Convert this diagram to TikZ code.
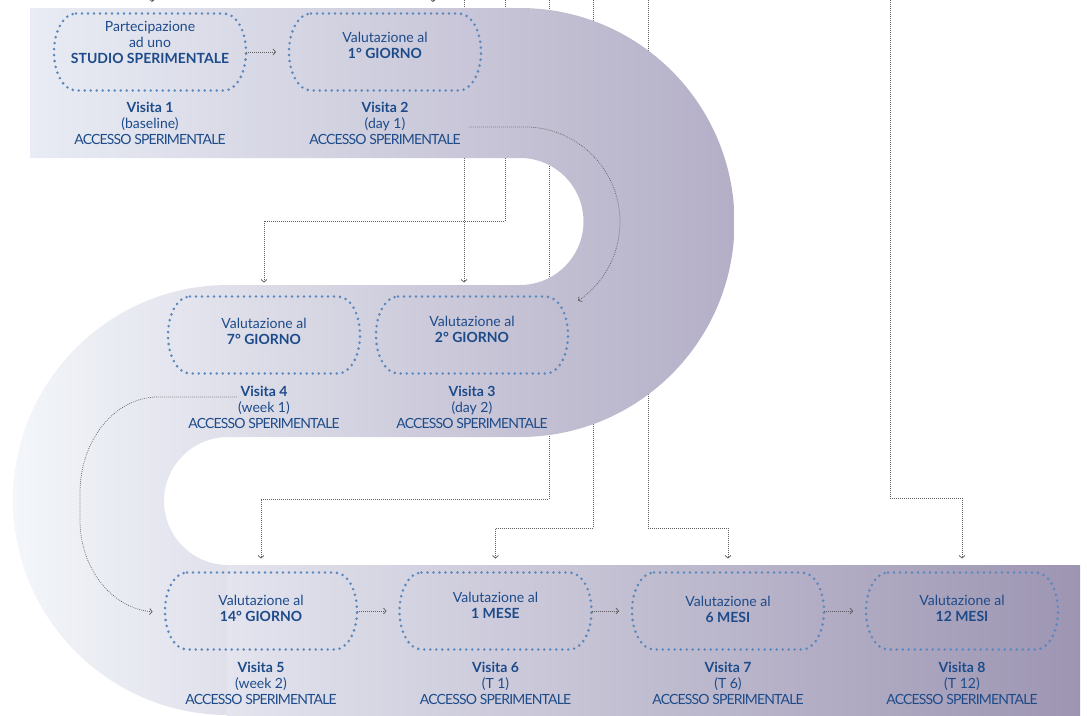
\documentclass[tikz,border=0pt]{standalone}
\usepackage{fontspec}
\setmainfont{Lato}
\newfontfamily\accfont[LetterSpace=-6]{Lato}
\usetikzlibrary{arrows.meta,calc}
\definecolor{txtblue}{HTML}{1D4B8A}
\definecolor{dotblue}{HTML}{5A88BC}
\definecolor{conncol}{HTML}{5E5E5E}
\newcommand\drawstadium[1]{%
  \draw[dotb] ([xshift=22pt]#1.north west) -- ([xshift=-22pt]#1.north east)
    arc[start angle=-90,end angle=90,x radius=22,y radius=38.5]
    -- ([xshift=22pt]#1.south west)
    arc[start angle=90,end angle=270,x radius=22,y radius=38.5] -- cycle;}
\newcommand\acc{{\accfont ACCESSO SPERIMENTALE}}
\begin{document}
\begin{tikzpicture}[x=1pt,y=-1pt,
  box/.style={minimum width=192pt,minimum height=77pt,inner sep=0pt,outer sep=0pt},
  boxtext/.style={text=txtblue,align=center,font=\fontsize{14}{16}\selectfont,inner sep=0pt},
  lab/.style={text=txtblue,align=center,font=\fontsize{14}{16}\selectfont,inner sep=0pt,anchor=north},
  dotb/.style={draw=dotblue,line width=2.9pt,line cap=round,dash pattern=on 0pt off 6pt},
  conn/.style={draw=conncol,line width=0.75pt,dash pattern=on 0.75pt off 1.25pt},
  tip/.style={-{Straight Barb[length=2.5pt,width=6pt,line width=0.75pt]}},
]
\useasboundingbox (0,0) rectangle (1087,715);

% invisible box nodes
\node[box] (N1) at (150,52) {};
\node[box] (N2) at (385,52) {};
\node[box] (N4) at (264,335) {};
\node[box] (N3) at (472,335) {};
\node[box] (N5) at (261,611) {};
\node[box] (N6) at (495.5,611) {};
\node[box] (N7) at (728,611) {};
\node[box] (N8) at (962,611) {};

% connectors coming from above (behind the ribbon)
\coordinate (a1) at (152,-8); \coordinate (a1e) at (152,2);
\coordinate (a2) at (433,-8); \coordinate (a2e) at (433,2);
\draw[conn,tip] (a1) -- (a1e);
\draw[conn,tip] (a2) -- (a2e);
\coordinate (s464) at (464,-2);
\coordinate (s505) at (505,-2);
\coordinate (s549) at (549,-2);
\coordinate (s593) at (593,-2);
\coordinate (s648) at (648,-2);
\coordinate (s890) at (890,-2);
\coordinate (k505) at (505,221);
\coordinate (k549) at (549,499);
\coordinate (k593) at (593,528);
\coordinate (k648) at (648,528);
\coordinate (k890) at (890,498);
\draw[conn,tip,shorten >=14pt] (s464) -- (s464 |- N3.north);
\draw[conn,tip,shorten >=14pt] (s505) -- (k505) -| (N4.north);
\draw[conn,tip,shorten >=14pt] (s549) -- (k549) -| (N5.north);
\draw[conn,tip,shorten >=14pt] (s593) -- (k593) -| (N6.north);
\draw[conn,tip,shorten >=14pt] (s648) -- (k648) -| (N7.north);
\draw[conn,tip,shorten >=14pt] (s890) -- (k890) -| (N8.north);

% ribbon
\shade[left color={rgb,255:red,233;green,236;blue,244},right color={rgb,255:red,180;green,175;blue,199}]
  (30,8) -- (520,8) arc[start angle=-90,end angle=90,radius=214.5]
  -- (520,285) arc[start angle=90,end angle=-90,radius=63.5] -- (30,158) -- cycle;
\shade[left color={rgb,255:red,243;green,246;blue,250},right color={rgb,255:red,196;green,193;blue,212}]
  (521,285) -- (228,285) arc[start angle=-90,end angle=-270,radius=215]
  -- (228,565) arc[start angle=90,end angle=270,radius=64] -- (521,437) -- cycle;
\shade[left color={rgb,255:red,227;green,228;blue,238},right color={rgb,255:red,157;green,149;blue,178}]
  (227,565) rectangle (1080,715);

% dotted stadium borders
\foreach \n in {N1,N2,N3,N4,N5,N6,N7,N8} {\drawstadium{\n}}

% texts inside
\node[boxtext] (T1) at (150,42) {Partecipazione\\ad uno\\\textbf{STUDIO SPERIMENTALE}};
\node[boxtext] (T2) at (385,45) {Valutazione al\\\textbf{1° GIORNO}};
\node[boxtext] (T4) at (264,331) {Valutazione al\\\textbf{7° GIORNO}};
\node[boxtext] (T3) at (472,329) {Valutazione al\\\textbf{2° GIORNO}};
\node[boxtext] (T5) at (261,608) {Valutazione al\\\textbf{14° GIORNO}};
\node[boxtext] (T6) at (495.5,605) {Valutazione al\\\textbf{1 MESE}};
\node[boxtext] (T7) at (728,609) {Valutazione al\\\textbf{6 MESI}};
\node[boxtext] (T8) at (962,608) {Valutazione al\\\textbf{12 MESI}};

% labels
\node[lab] (V1) at (150,102) {\textbf{Visita 1}\\(baseline)\\\acc};
\node[lab] (V2) at (385,102) {\textbf{Visita 2}\\(day 1)\\\acc};
\node[lab] (V4) at (264,386) {\textbf{Visita 4}\\(week 1)\\\acc};
\node[lab] (V3) at (472,386) {\textbf{Visita 3}\\(day 2)\\\acc};
\node[lab] (V5) at (261,662) {\textbf{Visita 5}\\(week 2)\\\acc};
\node[lab] (V6) at (495.5,662) {\textbf{Visita 6}\\(T 1)\\\acc};
\node[lab] (V7) at (728,662) {\textbf{Visita 7}\\(T 6)\\\acc};
\node[lab] (V8) at (962,662) {\textbf{Visita 8}\\(T 12)\\\acc};

% horizontal arrows
\draw[conn,tip,shorten >=13pt] (N1.east) -- (N2.west);
\draw[conn,tip,shorten >=13pt] (N5.east) -- (N6.west);
\draw[conn,tip,shorten >=13pt] (N6.east) -- (N7.west);
\draw[conn,tip,shorten >=13pt] (N7.east) -- (N8.west);

% curved connectors
\coordinate (r0) at ($(V2.north east)+(8,25)$);
\draw[conn,tip] (r0) -- (525,127) arc[start angle=-90,end angle=56,radius=95];
\coordinate (l0) at ($(V4.north)+(-27,11)$);
\draw[conn,tip] (l0) -- (158,397) arc[start angle=-90,end angle=-180,x radius=78,y radius=96]
  -- (80,520) arc[start angle=180,end angle=94,x radius=78,y radius=92];
\end{tikzpicture}
\end{document}
